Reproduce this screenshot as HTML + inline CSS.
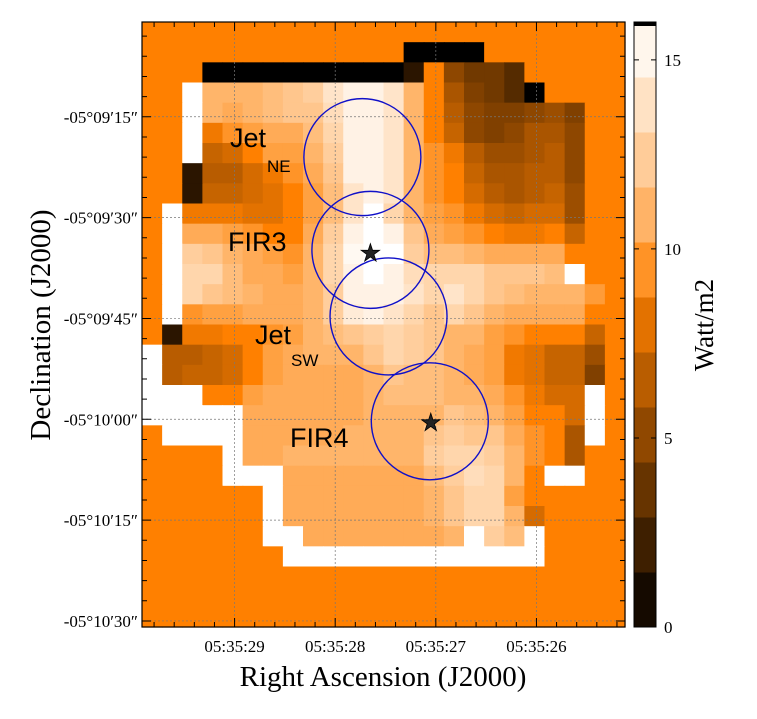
<!DOCTYPE html>
<html><head><meta charset="utf-8"><style>
html,body{margin:0;padding:0;background:#fff;}
svg{display:block;}
</style></head><body>
<svg id="chart" width="757" height="719" xmlns="http://www.w3.org/2000/svg">
<g id="cells"></g>
<g id="grid"></g>
<g id="overlay"></g>
<g id="axes"></g>
<g id="cbar"></g>
<text x="0" y="0" transform="translate(50,325) rotate(-90)" text-anchor="middle" font-family="Liberation Serif, serif" font-size="29">Declination (J2000)</text>
<text x="383" y="686" text-anchor="middle" font-family="Liberation Serif, serif" font-size="29">Right Ascension (J2000)</text>
<text x="0" y="0" transform="translate(713,325) rotate(-90)" text-anchor="middle" font-family="Liberation Serif, serif" font-size="27">Watt/m2</text>
<text x="230" y="147" font-family="Liberation Sans, sans-serif" font-size="27">Jet</text>
<text x="267" y="172" font-family="Liberation Sans, sans-serif" font-size="17">NE</text>
<text x="228" y="251" font-family="Liberation Sans, sans-serif" font-size="27">FIR3</text>
<text x="255" y="344" font-family="Liberation Sans, sans-serif" font-size="27">Jet</text>
<text x="291" y="366" font-family="Liberation Sans, sans-serif" font-size="17">SW</text>
<text x="290" y="447" font-family="Liberation Sans, sans-serif" font-size="27">FIR4</text>
</svg>
<script>
const rows = [
"9 9 9 9 9 9 9 9 9 9 9 9 9 9 9 9 9 9 9 9 9 9 9 9",
"9 9 9 9 9 9 9 9 9 9 9 9 9 0 0 0 0 9 9 9 9 9 9 9",
"9 9 9 0 0 0 0 0 0 0 0 0 0 1.5 9 5 4 4 3 9 9 9 9 9",
"9 9 h 11 11 11 11.5 12 12.5 14 15 15 14 11 9 6 4.5 4 3 0 9 9 9 9",
"9 9 h 11 10.5 11 11.5 12 12 13.5 15 15 14 11 9 6.5 5 4.5 4.5 5 5.5 4.5 9 9",
"9 9 h 8.5 9.5 10 10.5 10.5 11.5 13 15 15 14 11 9 7 5 4.5 5 6 6 5 9 9",
"9 9 h 7 7.5 9 10 10 11 12.5 15 15 14 11 9.5 8.5 6.5 5.5 5.5 6 6.5 5 9 9",
"9 9 1.5 6.5 6.5 7.5 8.5 9.5 10.5 12 15 15 14 11 9.5 9 7 6 6 6.5 6.5 5 9 9",
"9 9 1.5 7 7 7.5 8 9 10 11.5 14 15 14 11 9.5 9 7.5 6.5 6 6.5 7 5.5 9 9",
"9 h 8.5 8.5 8.5 8 8 9 10 11.5 14 16 13 11 10 9.5 8.5 7.5 7 7.5 7.5 5.5 9 9",
"9 h 10.5 10.5 10 9.5 9 9 10.5 12.5 15 16 15 12 10.5 10 9.5 9 8.5 8.5 9 7 9 9",
"9 h 12.5 12 11 10.5 10 9.5 11 13 15.5 16 16 12.5 11.5 11.5 11 10.5 10.5 10.5 10.5 9 9 9",
"9 h 13 13 11.5 10.5 10.5 10 11 13 15 16 15 13.5 13 13 13 12 12 12 11.5 h 9 9",
"9 h 13 12 11.5 11 10.5 10.5 11 12.5 15 15 15 14 13 14 13 12 11.5 11 11 11 9.8 9",
"9 h 9.5 10 10 10.5 10.5 10.5 11 12.5 14.5 15 14 13 12 13 12 11 10.5 10.5 10.5 10.5 9 9",
"9 1.5 8.5 8.5 9 9 9.5 10 11 11.5 12 12.5 13 12.5 12 11 11 10 9.5 9 9 9 7 9",
"h 6.5 6.5 7 7.5 9 10 10.5 11 11 11 12 13 12.5 12 11 10.5 10 8.5 8 7 7 5.5 9",
"h 6.5 7 7 7.5 9 10 10.5 10.5 10.5 10.5 11 12 11.5 11.5 11 10.5 10 8.5 8 7 7 4.5 9",
"h h h 9 9 10 10.5 10.5 10.5 10.5 10.5 11 11.5 11.5 11.5 11 11 10.5 9.5 8.5 7.5 7.5 h 9",
"h h h h h 10.5 10.5 10.5 10.5 10.5 10.5 11 11 11 11 12 11.5 11 10 9 9 7.5 h 9",
"9 h h h h 10.5 10.5 10.5 10.5 10.5 11 11 11 11 12 12.5 12 12 10.5 9.5 9 6 h 9",
"9 9 9 9 h 10.5 10.5 11 11 11 11 11 11 11 12.5 13 13 12.5 11 9.5 9 6 9 9",
"9 9 9 9 h h h 10.5 10.5 10.5 10.5 10.5 10.5 10.5 11.5 12.5 13.5 13 11 9 h h 9 9",
"9 9 9 9 9 9 h 10.5 10.5 10.5 10.5 10.5 10.5 10.5 11 12 13 13 10 9 9 9 9 9",
"9 9 9 9 9 9 h 10.5 10.5 10.5 10.5 10.5 10.5 10.5 11 12 13 13 11 7.5 9 9 9 9",
"9 9 9 9 9 9 h h 10.5 10.5 10.5 10.5 10.5 10.5 10.5 11 h 12.5 11.5 h 9 9 9 9",
"9 9 9 9 9 9 9 h h h h h h h h h h h h h 9 9 9 9",
"9 9 9 9 9 9 9 9 9 9 9 9 9 9 9 9 9 9 9 9 9 9 9 9",
"9 9 9 9 9 9 9 9 9 9 9 9 9 9 9 9 9 9 9 9 9 9 9 9",
"9 9 9 9 9 9 9 9 9 9 9 9 9 9 9 9 9 9 9 9 9 9 9 9"
];
const xTickLabels = ["05:35:29","05:35:28","05:35:27","05:35:26"];
const xTickCols = [4.6, 9.6, 14.6, 19.6];
const yTickLabels = ["-05°09′15″","-05°09′30″","-05°09′45″","-05°10′00″","-05°10′15″","-05°10′30″"];
const yTickRows = [4.7, 9.7, 14.7, 19.7, 24.7, 29.7];
const cbarTicks = [0, 5, 10, 15];
const circleCx = [10.95, 11.35, 12.25, 14.3];
const circleCy = [6.7, 11.3, 14.6, 19.8];
const starCx = [11.35, 14.35];
const starCy = [11.45, 19.85];

const NS = "http://www.w3.org/2000/svg";
const X0 = 142, X1 = 625, Y0 = 22, Y1 = 627, NC = 24, NR = 30;
const CW = (X1 - X0) / NC, CH = (Y1 - Y0) / NR;
const xScale = c => X0 + c * CW;
const yScale = r => Y0 + r * CH;
const VMAX = 16;
function cmap(v) {
  if (isNaN(v) || v > VMAX) return "#ffffff";
  let r, g, b;
  if (v <= 9) { const t = Math.max(0, v) / 9; r = 255 * t; g = 128 * t; b = 0; }
  else { const t = Math.pow(Math.min(1, (v - 9) / 7), 0.7); r = 255; g = 128 + 127 * t; b = 255 * t; }
  return `rgb(${Math.round(r)},${Math.round(g)},${Math.round(b)})`;
}
function mk(tag, attrs, parent) {
  const el = document.createElementNS(NS, tag);
  for (const k in attrs) el.setAttribute(k, attrs[k]);
  parent.appendChild(el);
  return el;
}
const cells = document.getElementById("cells");
rows.forEach((row, r) => {
  row.split(" ").forEach((tok, c) => {
    const v = tok === "h" ? NaN : parseFloat(tok);
    const el = mk("rect", {x: xScale(c).toFixed(2), y: yScale(r).toFixed(2), width: (CW + 0.6).toFixed(2), height: (CH + 0.6).toFixed(2), fill: cmap(v)}, cells);
    
    
  });
});
const grid = document.getElementById("grid");
const axes = document.getElementById("axes");
xTickCols.forEach((c, i) => {
  const x = xScale(c);
  const gl = mk("line", {x1: x, x2: x, y1: Y0, y2: Y1, stroke: "#777", "stroke-width": 0.7, "stroke-dasharray": "2,2"}, grid);
  
  
  const t = mk("text", {x: x, y: Y1 + 25, "text-anchor": "middle", "font-family": "Liberation Serif, serif", "font-size": 17}, axes);
  t.textContent = xTickLabels[i];
  
  
});
yTickRows.forEach((r, i) => {
  const y = yScale(r);
  const gl = mk("line", {x1: X0, x2: X1, y1: y, y2: y, stroke: "#777", "stroke-width": 0.7, "stroke-dasharray": "2,2"}, grid);
  
  
  const t = mk("text", {x: X0 - 4, y: y + 6, "text-anchor": "end", "font-family": "Liberation Serif, serif", "font-size": 17}, axes);
  t.textContent = yTickLabels[i];
  
  
});
let tp = "";
for (let c = xTickCols[0] - 5; c < NC; c += 1) {
  if (c < 0) continue;
  const x = xScale(c);
  const major = xTickCols.some(v => Math.abs(v - c) < 0.01);
  const L = major ? 9 : 5;
  tp += `M${x},${Y1}v${-L}M${x},${Y0}v${L}`;
}
for (let r = yTickRows[0] - 5; r <= NR; r += 1) {
  if (r < 0) continue;
  const y = yScale(r);
  const major = yTickRows.some(v => Math.abs(v - r) < 0.01);
  const L = major ? 9 : 5;
  tp += `M${X0},${y}h${L}M${X1},${y}h${-L}`;
}
const ticks = mk("path", {d: tp, stroke: "#000", "stroke-width": 1, fill: "none"}, axes);


const frame = mk("rect", {x: X0, y: Y0, width: X1 - X0, height: Y1 - Y0, fill: "none", stroke: "#000", "stroke-width": 1.2}, axes);


const ov = document.getElementById("overlay");
circleCx.forEach((c, i) => {
  const el = mk("circle", {cx: xScale(c), cy: yScale(circleCy[i]), r: 58.5, fill: "none", stroke: "#1010c8", "stroke-width": 1.4}, ov);
  
  
});
starCx.forEach((c, i) => {
  const t = mk("text", {x: xScale(c), y: yScale(starCy[i]) + 8, "text-anchor": "middle", "font-family": "DejaVu Sans, sans-serif", "font-size": 24, fill: "#222", stroke: "#000", "stroke-width": 0.8}, ov);
  t.textContent = "★";
  
  
});
const cb = document.getElementById("cbar");
const CBX = 634, CBW = 22;
const cbY = v => Y1 - v / VMAX * (Y1 - Y0);
const NB = 11;
for (let b = 0; b < NB; b++) {
  const v0 = b * VMAX / NB, v1 = (b + 1) * VMAX / NB;
  const el = mk("rect", {x: CBX, y: cbY(v1), width: CBW, height: cbY(v0) - cbY(v1) + 0.5, fill: cmap((v0 + v1) / 2)}, cb);
  
  
}
const cbTop = mk("rect", {x: CBX, y: Y0, width: CBW, height: 4, fill: "#000"}, cb);


const cbf = mk("rect", {x: CBX, y: Y0, width: CBW, height: Y1 - Y0, fill: "none", stroke: "#000", "stroke-width": 1}, cb);


cbarTicks.forEach(v => {
  const y = cbY(v);
  const l = mk("path", {d: `M${CBX},${y}h5M${CBX + CBW},${y}h-5`, stroke: "#000"}, cb);
  
  
  const t = mk("text", {x: CBX + CBW + 8, y: y + 6, "font-family": "Liberation Serif, serif", "font-size": 17}, cb);
  t.textContent = v;
  
  
});
</script>
</body></html>
